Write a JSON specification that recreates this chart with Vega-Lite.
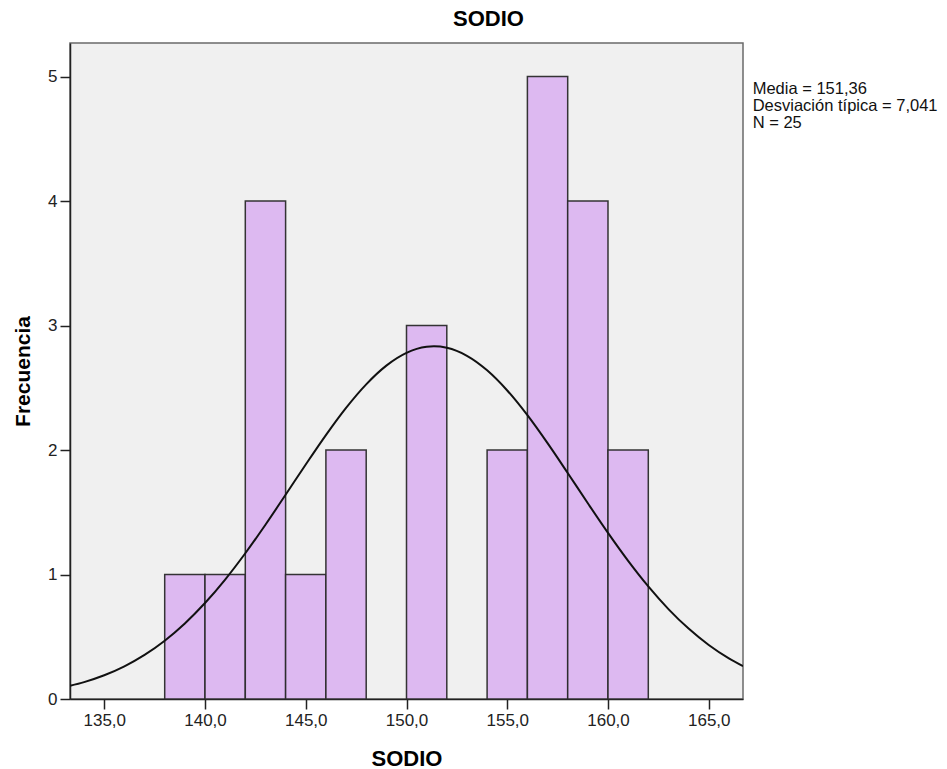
{
  "$schema": "https://vega.github.io/schema/vega-lite/v6.json",
  "autosize": "none",
  "width": 673,
  "height": 656,
  "padding": {"left": 70, "top": 43, "right": 204, "bottom": 70},
  "background": "white",
  "config": {
    "font": "Liberation Sans",
    "view": {"fill": "#F0F0F0", "stroke": "#6a6a6a", "strokeWidth": 1.5}
  },
  "title": {
    "text": "SODIO",
    "fontSize": 22,
    "fontWeight": "bold",
    "color": "#000000",
    "anchor": "middle",
    "dx": 82,
    "offset": 12
  },
  "datasets": {
    "bins": [
      {"start": 138, "end": 140, "count": 1},
      {"start": 140, "end": 142, "count": 1},
      {"start": 142, "end": 144, "count": 4},
      {"start": 144, "end": 146, "count": 1},
      {"start": 146, "end": 148, "count": 2},
      {"start": 150, "end": 152, "count": 3},
      {"start": 154, "end": 156, "count": 2},
      {"start": 156, "end": 158, "count": 5},
      {"start": 158, "end": 160, "count": 4},
      {"start": 160, "end": 162, "count": 2}
    ],
    "curve": [
      {"x": 133.3, "y": 0.1056},
      {"x": 134, "y": 0.1356},
      {"x": 135, "y": 0.1905},
      {"x": 136, "y": 0.2623},
      {"x": 137, "y": 0.3540},
      {"x": 138, "y": 0.4682},
      {"x": 139, "y": 0.6069},
      {"x": 140, "y": 0.7709},
      {"x": 141, "y": 0.9597},
      {"x": 142, "y": 1.1709},
      {"x": 143, "y": 1.4000},
      {"x": 144, "y": 1.6406},
      {"x": 145, "y": 1.8839},
      {"x": 146, "y": 2.1203},
      {"x": 147, "y": 2.3388},
      {"x": 148, "y": 2.5280},
      {"x": 149, "y": 2.6783},
      {"x": 150, "y": 2.7806},
      {"x": 151, "y": 2.8293},
      {"x": 151.36, "y": 2.8330},
      {"x": 152, "y": 2.8213},
      {"x": 153, "y": 2.7572},
      {"x": 154, "y": 2.6407},
      {"x": 155, "y": 2.4786},
      {"x": 156, "y": 2.2801},
      {"x": 157, "y": 2.0555},
      {"x": 158, "y": 1.8161},
      {"x": 159, "y": 1.5725},
      {"x": 160, "y": 1.3344},
      {"x": 161, "y": 1.1097},
      {"x": 162, "y": 0.9044},
      {"x": 163, "y": 0.7224},
      {"x": 164, "y": 0.5655},
      {"x": 165, "y": 0.4338},
      {"x": 166, "y": 0.3262},
      {"x": 166.7, "y": 0.2640}
    ],
    "stats": [
      {"label": ["Media = 151,36", "Desviación típica = 7,041", "N = 25"]}
    ]
  },
  "layer": [
    {
      "data": {"name": "bins"},
      "mark": {"type": "rect", "fill": "#DDB9F1", "stroke": "#2a2a2a", "strokeWidth": 1.5, "strokeOpacity": 0.95},
      "encoding": {
        "x": {
          "field": "start",
          "type": "quantitative",
          "scale": {"domain": [133.3, 166.7], "nice": false, "zero": false},
          "axis": {
            "title": "SODIO",
            "titleFontSize": 22,
            "titleFontWeight": "bold",
            "titleColor": "#000000",
            "titlePadding": 20,
            "values": [135, 140, 145, 150, 155, 160, 165],
            "labelExpr": "replace(format(datum.value, '.1f'), '.', ',')",
            "labelFontSize": 17,
            "labelColor": "#222222",
            "labelPadding": 3,
            "tickSize": 10,
            "tickWidth": 1.5,
            "tickColor": "#222222",
            "domainColor": "#222222",
            "domainWidth": 1.5,
            "grid": false
          }
        },
        "x2": {"field": "end"},
        "y": {
          "field": "count",
          "type": "quantitative",
          "scale": {"domain": [0, 5.27], "nice": false},
          "axis": {
            "title": "Frecuencia",
            "titleFontSize": 21,
            "titleFontWeight": "bold",
            "titleColor": "#000000",
            "titlePadding": 14,
            "values": [0, 1, 2, 3, 4, 5],
            "format": "d",
            "labelFontSize": 17,
            "labelColor": "#222222",
            "labelPadding": 3,
            "tickSize": 10,
            "tickWidth": 1.5,
            "tickColor": "#222222",
            "domainColor": "#222222",
            "domainWidth": 1.5,
            "grid": false
          }
        },
        "y2": {"datum": 0}
      }
    },
    {
      "data": {"name": "curve"},
      "mark": {"type": "line", "color": "#111111", "strokeWidth": 2, "interpolate": "monotone", "clip": true},
      "encoding": {
        "x": {"field": "x", "type": "quantitative"},
        "y": {"field": "y", "type": "quantitative"}
      }
    },
    {
      "data": {"name": "stats"},
      "mark": {"type": "text", "align": "left", "baseline": "alphabetic", "fontSize": 16.5, "lineHeight": 16.7, "color": "#111111"},
      "encoding": {
        "x": {"datum": 167.18, "type": "quantitative"},
        "y": {"datum": 4.857, "type": "quantitative"},
        "text": {"field": "label"}
      }
    }
  ]
}
